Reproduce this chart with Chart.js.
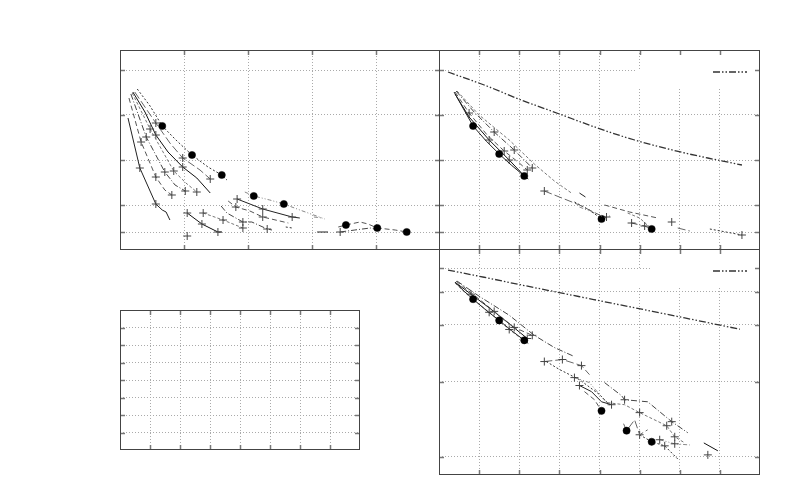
<!DOCTYPE html>
<html><head><meta charset="utf-8">
<script src="https://cdn.jsdelivr.net/npm/chart.js@4.4.1/dist/chart.umd.min.js"></script>
<style>
html,body{margin:0;padding:0;background:#fff}
#wrap{position:relative;width:800px;height:500px;overflow:hidden;background:#fff}
#wrap canvas{position:absolute;left:0;top:0}
</style></head><body>
<div id="wrap">
<canvas id="pTL" width="800" height="500"></canvas>
<canvas id="pTR" width="800" height="500"></canvas>
<canvas id="pBR" width="800" height="500"></canvas>
<canvas id="pBL" width="800" height="500"></canvas>
</div>
<script>
// ---- tick values for each panel (no labels are shown) ----
const TL_XTICKS = [1, 2, 3, 4];
const TL_YTICKS = [0.9, 2.25, 4.5, 6.75, 9.0];
const R_XTICKS = [1, 2, 3, 4, 5, 6, 7];
const TR_YTICKS = [0.9, 2.25, 4.5, 6.75, 9.0];
const BR_YTICKS = [0.81, 4.12, 6.64, 8.1, 9.14];
const BL_XTICKS = [1, 2, 3, 4, 5, 6, 7];
const BL_YTICKS = [1, 2, 3, 4, 5, 6, 7];

// ---- series: [x, y, marker] marker 0 none, 1 cross, 2 filled circle ----
// top-left panel
const TL_C1 = [[0.125,6.6,0],[0.31,4.1,1],[0.56,2.3,1],[0.66,2.0,0],[0.72,1.9,0],[0.78,1.5,0]];
const TL_C2 = [[0.14,7.6,0],[0.33,5.4,1],[0.56,3.65,1],[0.70,3.0,0],[0.81,2.75,1]];
const TL_C3 = [[0.17,7.8,0],[0.41,5.65,1],[0.70,3.9,1],[0.86,3.25,0],[1.02,2.95,1]];
const TL_C4 = [[0.19,7.85,0],[0.47,6.05,1],[0.84,3.95,1],[1.03,3.35,0],[1.20,2.9,1]];
const TL_C5 = [[0.20,7.9,0],[0.39,6.9,0],[0.56,5.75,1],[0.75,4.9,0],[0.98,4.15,1],[1.20,3.6,0],[1.41,2.85,0]];
const TL_C6 = [[0.23,7.9,0],[0.56,6.35,1],[0.78,5.35,0],[0.98,4.6,1],[1.25,4.0,0],[1.41,3.55,1]];
const TL_C7 = [[0.27,8.05,0],[0.47,7.2,0],[0.66,6.2,2],[0.89,5.45,0],[1.125,4.75,2],[1.375,4.15,0],[1.59,3.75,2],[1.67,3.5,0]];
const TL_M1 = [[1.95,2.9,0],[2.09,2.7,2],[2.34,2.5,0],[2.56,2.3,2],[2.81,2.0,0],[3.20,1.55,0]];
const TL_M2 = [[1.83,2.55,1],[2.23,2.05,1],[2.69,1.65,1],[2.81,1.6,0]];
const TL_M3 = [[1.69,2.45,0],[1.81,2.15,1],[2.03,1.95,0],[2.23,1.65,1],[2.63,1.35,0]];
const TL_M4 = [[1.58,2.2,0],[1.67,1.85,0],[1.92,1.4,1],[2.06,1.4,0],[2.30,1.05,1],[2.375,1.0,0]];
const TL_M5 = [[1.30,1.85,1],[1.61,1.5,1],[1.92,1.1,1]];
const TL_M6 = [[1.05,1.85,1],[1.28,1.3,1],[1.53,0.9,1],[1.59,0.9,0]];
const TL_M7 = [[1.05,0.7,1]];
const TL_S1 = [[2.59,1.15,0],[2.69,1.1,0]];
const TL_S2 = [[3.03,1.65,0],[3.16,1.6,0]];
const TL_S3 = [[3.08,0.9,0],[3.25,0.9,0]];
const TL_R1 = [[3.41,1.15,0],[3.53,1.25,2],[3.75,1.4,0],[3.875,1.3,0],[4.02,1.1,2],[4.30,1.0,0],[4.48,0.9,2]];
const TL_R2 = [[3.44,0.9,1],[3.67,1.0,0],[3.91,1.1,0],[4.03,1.0,0]];

// top-right panel
const TR_REF = [[0.225,8.9],[1.125,8.25],[2.05,7.5],[3.0,6.8],[3.95,6.1],[4.875,5.5],[6.125,4.85],[6.7,4.6],[7.55,4.25]];
const TR_A = [[0.375,7.9,0],[0.625,7.0,0],[0.85,6.2,2],[1.175,5.45,0],[1.5,4.8,2],[1.8,4.25,0],[2.125,3.7,2],[2.225,3.55,0]];
const TR_B = [[0.4,7.9,0],[0.75,6.85,1],[1.2,5.75,0],[1.625,4.95,1],[2.0,4.35,0],[2.2,4.0,1]];
const TR_C = [[0.425,7.95,0],[0.875,6.9,0],[1.375,5.9,1],[1.875,5.0,1],[2.325,4.1,1]];
const TR_D = [[0.45,7.95,0],[1.0,6.75,0],[1.75,5.5,0],[2.375,4.3,0],[2.875,3.45,0],[3.3,2.85,0]];
const TR_E = [[0.4,7.8,0],[0.75,6.65,0],[1.25,5.5,1],[1.75,4.5,1],[2.175,3.6,0]];
const TR_F = [[2.625,2.95,1],[3.0,2.65,0],[3.5,2.25,0],[4.0,1.75,0],[4.15,1.6,0]];
const TR_G = [[3.375,2.4,0],[3.75,2.0,0],[4.05,1.55,2],[4.25,1.7,0]];
const TR_H = [[3.5,2.15,0],[3.875,1.85,0],[4.175,1.65,1]];
const TR_I = [[3.5,2.85,0],[3.65,2.65,0]];
const TR_J = [[4.125,2.25,0],[4.75,1.9,0],[5.45,1.6,0]];
const TR_K = [[4.8,1.35,1],[5.125,1.2,1],[5.3,1.05,2]];
const TR_L = [[4.7,1.85,0],[5.0,1.6,0],[5.3,1.05,0]];
const TR_M = [[5.8,1.4,1]];
const TR_N = [[5.95,1.1,0],[6.25,0.95,0]];
const TR_O = [[6.75,1.05,0],[7.55,0.75,1]];

// bottom-right panel
const BR_REF = [[0.225,9.07],[1.125,8.75],[2.05,8.41],[3.0,8.07],[3.95,7.73],[4.875,7.40],[6.125,6.95],[7.5,6.45]];
const BR_A = [[0.4,8.53,0],[0.625,8.13,0],[0.85,7.78,2],[1.175,7.29,0],[1.5,6.84,2],[1.8,6.4,0],[2.125,5.96,2],[2.225,5.82,0]];
const BR_B = [[0.425,8.58,0],[0.875,7.96,0],[1.375,7.24,1],[1.875,6.53,1],[2.325,6.18,1]];
const BR_C = [[0.45,8.58,0],[1.0,7.91,0],[1.75,7.07,0],[2.375,6.18,0],[2.875,5.64,0],[3.375,5.24,0]];
const BR_D = [[0.4,8.49,0],[0.75,7.91,0],[1.25,7.2,1],[1.75,6.44,1],[2.175,5.87,0]];
const BR_E = [[0.4,8.53,0],[0.8,8.0,1],[1.3,7.33,0],[1.8,6.62,0],[2.2,6.04,1]];
const BR_F = [[2.625,5.02,1],[3.075,5.11,1],[3.55,4.84,1],[3.75,4.44,0]];
const BR_G = [[2.675,5.02,0],[3.0,4.67,0],[3.5,4.22,0],[4.0,3.56,0],[4.25,3.11,0]];
const BR_H = [[3.375,4.31,1],[3.75,4.09,0],[4.0,3.56,0],[4.25,3.07,0]];
const BR_I = [[3.5,3.96,1],[3.8,3.69,0],[4.05,3.24,0],[4.3,3.11,1]];
const BR_J = [[3.625,3.69,0],[3.875,3.33,0],[4.05,2.84,2]];
const BR_K = [[4.125,4.09,0],[4.55,3.51,0],[4.625,3.33,1],[5.2,3.24,0],[5.8,2.36,1],[6.2,1.87,0]];
const BR_L = [[4.2,3.2,0],[4.625,3.11,0],[5.0,2.76,1],[5.675,2.18,1],[5.875,1.69,1],[6.125,1.42,0]];
const BR_M = [[6.6,1.42,0],[6.95,1.07,0]];
const BR_N = [[4.6,2.27,0],[4.675,1.96,2],[4.875,2.44,0],[5.0,1.78,0],[5.2,2.0,0]];
const BR_O = [[5.0,1.78,1],[5.3,1.47,2],[5.625,1.29,1],[5.95,0.71,0]];
const BR_P = [[5.5,1.56,1],[5.875,1.38,1],[6.25,1.33,0]];
const BR_Q = [[6.7,0.89,1]];

// ---- styling helpers ----
const STYLES = [
  {c:'#222', d:[]}, {c:'#555', d:[5,3]}, {c:'#444', d:[6,2,1,2]}, {c:'#777', d:[3,2]},
  {c:'#111', d:[]}, {c:'#666', d:[8,3]}, {c:'#333', d:[2,2]}, {c:'#888', d:[4,2,1,2,1,2]}
];
function series(arr, i){
  const st = STYLES[i % STYLES.length];
  return {
    data: arr.map(p => ({x:p[0], y:p[1]})),
    showLine: arr.length > 1,
    borderColor: st.c, borderWidth: 1, borderDash: st.d,
    pointStyle: arr.map(p => p[2] === 2 ? 'circle' : 'cross'),
    pointRadius: arr.map(p => p[2] === 2 ? 3.6 : (p[2] === 1 ? 4 : 0)),
    pointBackgroundColor: arr.map(p => p[2] === 2 ? '#000' : 'rgba(0,0,0,0)'),
    pointBorderColor: arr.map(p => p[2] === 2 ? '#000' : '#444'),
    pointBorderWidth: arr.map(p => p[2] === 2 ? 0.5 : 1),
    tension: 0
  };
}
function refSeries(arr){
  return {
    data: arr.map(p => ({x:p[0], y:p[1]})), showLine: true,
    borderColor: '#333', borderWidth: 1.3, borderDash: [7,2,1.5,2,1.5,2],
    pointRadius: 0, cubicInterpolationMode: 'monotone'
  };
}

// frame, inward ticks and key plugin
const framePlugin = {
  id: 'frame',
  beforeDatasetsDraw(chart, args, opts){
    const a = chart.chartArea, ctx = chart.ctx;
    if (opts.key) {
      ctx.save(); ctx.fillStyle = '#fff';
      ctx.fillRect(a.right - 110, a.top + 1, 109, 37);
      ctx.fillRect(a.right - 124, a.top + 20, 16, 17);
      ctx.restore();
    }
  },
  afterDraw(chart, args, opts){
    const a = chart.chartArea, ctx = chart.ctx;
    const xs = chart.scales.x, ys = chart.scales.y;
    ctx.save();
    ctx.strokeStyle = '#777'; ctx.lineWidth = 1.5;
    const L = 5;
    ctx.beginPath();
    xs.ticks.forEach(t => {
      const px = Math.round(xs.getPixelForValue(t.value)) + 0.5;
      ctx.moveTo(px, a.bottom); ctx.lineTo(px, a.bottom - L);
      ctx.moveTo(px, a.top); ctx.lineTo(px, a.top + L);
    });
    ys.ticks.forEach(t => {
      const py = Math.round(ys.getPixelForValue(t.value)) + 0.5;
      ctx.moveTo(a.left, py); ctx.lineTo(a.left + L, py);
      ctx.moveTo(a.right, py); ctx.lineTo(a.right - L, py);
    });
    ctx.stroke();
    ctx.strokeStyle = '#444'; ctx.lineWidth = 1;
    ctx.strokeRect(a.left + 0.5, a.top + 0.5, a.right - a.left - 1, a.bottom - a.top - 1);
    if (opts.key) {
      ctx.strokeStyle = '#333'; ctx.lineWidth = 1.3;
      ctx.setLineDash([7,2,1.5,2,1.5,2]);
      ctx.beginPath();
      const ky = a.top + 22;
      ctx.moveTo(a.right - 47, ky); ctx.lineTo(a.right - 13, ky);
      ctx.stroke();
    }
    ctx.restore();
  }
};

function axis(min, max, ticks){
  return {
    type: 'linear', min: min, max: max,
    afterBuildTicks: ax => { ax.ticks = ticks.map(v => ({value: v})); },
    ticks: {display: false},
    grid: {display: true, color: '#aaa', lineWidth: 1, drawTicks: false},
    border: {display: false, dash: [1,2]}
  };
}

function makeChart(id, pad, xr, yr, xt, yt, datasets, key){
  return new Chart(document.getElementById(id), {
    type: 'scatter',
    data: {datasets: datasets},
    options: {
      responsive: false, animation: false, devicePixelRatio: 1,
      layout: {padding: pad},
      plugins: {legend: {display: false}, tooltip: {enabled: false}, frame: {key: key}},
      scales: {x: axis(xr[0], xr[1], xt), y: axis(yr[0], yr[1], yt)},
      elements: {line: {fill: false}}
    },
    plugins: [framePlugin]
  });
}

const tlSeries = [TL_C1,TL_C2,TL_C3,TL_C4,TL_C5,TL_C6,TL_C7,TL_M1,TL_M2,TL_M3,TL_M4,TL_M5,TL_M6,TL_M7,TL_S1,TL_S2,TL_S3,TL_R1,TL_R2];
const trSeries = [TR_A,TR_B,TR_C,TR_D,TR_E,TR_F,TR_G,TR_H,TR_I,TR_J,TR_K,TR_L,TR_M,TR_N,TR_O];
const brSeries = [BR_A,BR_B,BR_C,BR_D,BR_E,BR_F,BR_G,BR_H,BR_I,BR_J,BR_K,BR_L,BR_M,BR_N,BR_O,BR_P,BR_Q];

makeChart('pTL', {left:120, right:360, top:50, bottom:250}, [0,5], [0,10], TL_XTICKS, TL_YTICKS,
  tlSeries.map(series), false);
makeChart('pTR', {left:439, right:40, top:50, bottom:250}, [0,8], [0,10], R_XTICKS, TR_YTICKS,
  [refSeries(TR_REF)].concat(trSeries.map(series)), true);
makeChart('pBR', {left:439, right:40, top:249, bottom:25}, [0,8], [0,10], R_XTICKS, BR_YTICKS,
  [refSeries(BR_REF)].concat(brSeries.map(series)), true);
makeChart('pBL', {left:120, right:440, top:310, bottom:50}, [0,8], [0,8], BL_XTICKS, BL_YTICKS,
  [], false);
</script>
</body></html>
